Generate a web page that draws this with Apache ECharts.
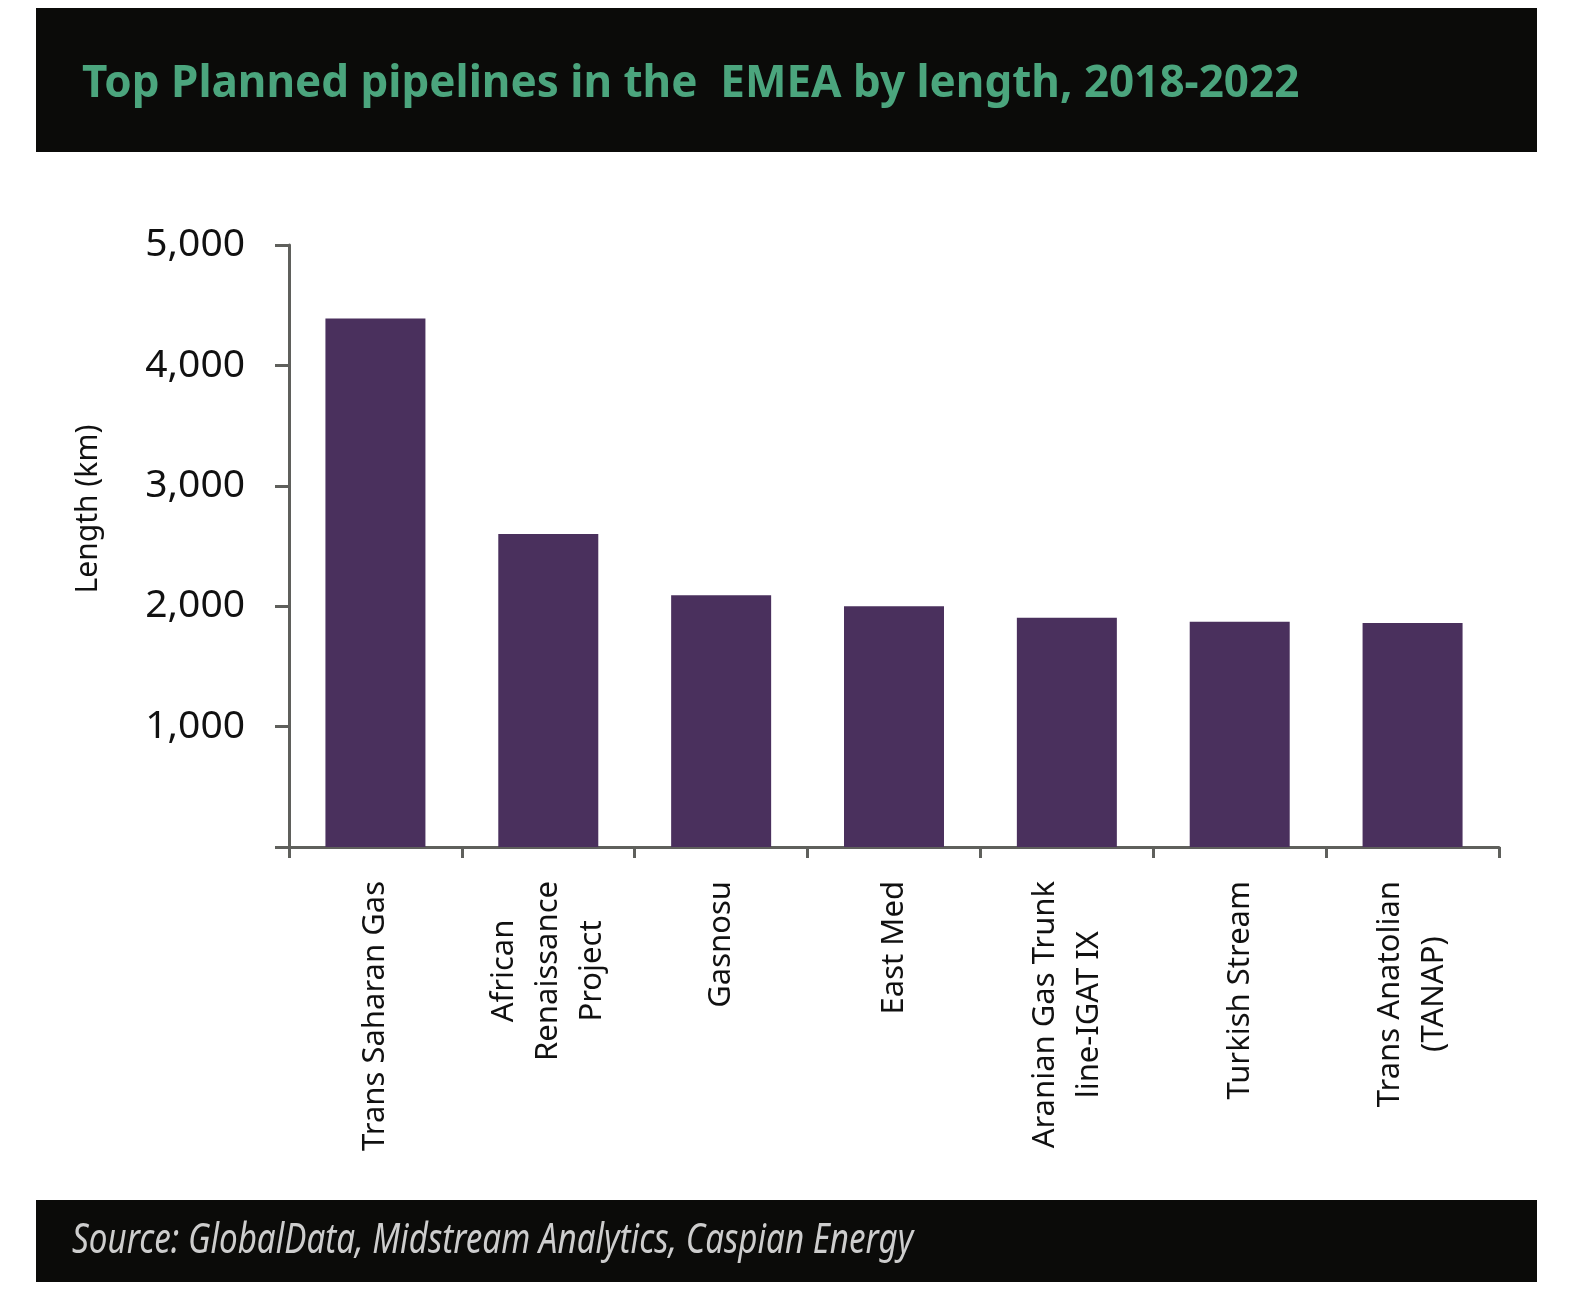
<!DOCTYPE html>
<html>
<head>
<meta charset="utf-8">
<script src="https://cdn.jsdelivr.net/npm/echarts@6/dist/echarts.min.js"></script>
<style>
html,body{margin:0;padding:0;background:#fff;}
#chart{width:1582px;height:1302px;}
</style>
</head>
<body>
<div id="chart"></div>
<script>
var titleText = 'Top Planned pipelines in the  EMEA by length, 2018-2022';
var sourceText = 'Source: GlobalData, Midstream Analytics, Caspian Energy';
var yAxisName = 'Length (km)';
var categories = [
  'Trans Saharan Gas',
  'African\nRenaissance\nProject',
  'Gasnosu',
  'East Med',
  'Aranian Gas Trunk\nline-IGAT IX',
  'Turkish Stream',
  'Trans Anatolian\n(TANAP)'
];
var lengths = [4390, 2600, 2090, 2000, 1905, 1870, 1860];
var yTicks = {min: 0, max: 5000, interval: 1000};

var chart = echarts.init(document.getElementById('chart'));
var axisGray = '#5f605c';
var font = '"Noto Sans", "Open Sans", sans-serif';

chart.setOption({
  backgroundColor: '#ffffff',
  animation: false,
  graphic: [
    {type: 'rect', shape: {x: 36, y: 8, width: 1501, height: 144}, style: {fill: '#0b0b09'}, z: 0},
    {type: 'rect', shape: {x: 36, y: 1200, width: 1501, height: 82}, style: {fill: '#0b0b09'}, z: 0},
    {type: 'text', x: 82, y: 84, z: 1,
      style: {text: titleText, font: 'bold 44px ' + font, fill: '#4ba57d', textVerticalAlign: 'middle', textAlign: 'left'}},
    {type: 'text', x: 72, y: 1241, z: 1, scaleX: 0.79,
      style: {text: sourceText, font: 'italic 42px ' + font, fill: '#cdcdcd', textVerticalAlign: 'middle', textAlign: 'left'}}
  ],
  grid: {left: 289, right: 83, top: 245, bottom: 455, containLabel: false},
  xAxis: {
    type: 'category',
    data: categories,
    boundaryGap: true,
    axisLine: {show: true, lineStyle: {color: axisGray, width: 3}},
    axisTick: {show: true, alignWithLabel: false, length: 11, lineStyle: {color: axisGray, width: 3}},
    axisLabel: {
      rotate: 90,
      interval: 0,
      margin: 34,
      color: '#111',
      fontFamily: font,
      fontSize: 31,
      lineHeight: 44,
      formatter: function (v) {
        return v.split('\n').map(function (s) { return '{c|' + s + '}'; }).join('\n');
      },
      rich: {c: {align: 'center', fontFamily: font, fontSize: 31, lineHeight: 44, color: '#111'}}
    }
  },
  yAxis: {
    type: 'value',
    min: yTicks.min,
    max: yTicks.max,
    interval: yTicks.interval,
    name: yAxisName,
    nameLocation: 'middle',
    nameGap: 186,
    nameTextStyle: {fontFamily: font, fontSize: 30, color: '#111', padding: [0, 0, 0, 74]},
    axisLine: {show: true, lineStyle: {color: axisGray, width: 3}},
    axisTick: {show: true, length: 14, lineStyle: {color: axisGray, width: 3}},
    splitLine: {show: false},
    axisLabel: {
      margin: 44,
      color: '#111',
      fontFamily: font,
      fontSize: 39,
      formatter: function (v) { return v === 0 ? '' : v.toLocaleString('en-US'); }
    }
  },
  series: [{
    type: 'bar',
    data: lengths,
    barWidth: 100,
    itemStyle: {color: '#4a305d'}
  }]
});
</script>
</body>
</html>
